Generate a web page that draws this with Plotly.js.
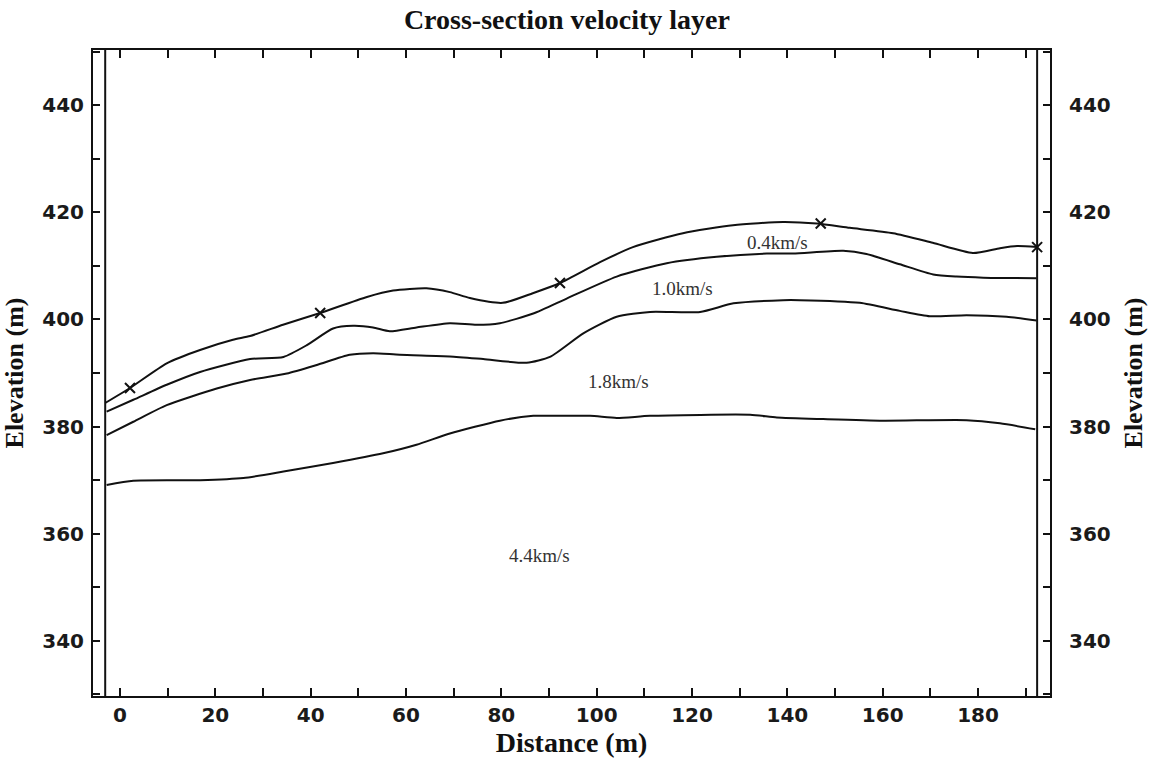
<!DOCTYPE html>
<html><head><meta charset="utf-8">
<script src="https://cdn.plot.ly/plotly-3.0.1.min.js"></script>
<style>html,body{margin:0;padding:0;background:#fff}#chart{width:1157px;height:763px}</style>
</head><body><div id="chart"></div>
<script>
// Boundary between 0.4 km/s and 1.0 km/s layers (surface)
const b1X = [-3.1, 2.1, 9.8, 16.8, 23.7, 27.3, 34.2, 42.0, 51.8, 57.3, 64.3, 69.2, 73.4, 80.3, 86.6, 92.3, 100.7, 107.6, 118.1, 128.6, 139.1, 146.2, 153.1, 162.2, 170.5, 178.9, 184.6, 188.2, 192.4];
const b1Y = [384.4, 387.2, 391.8, 394.3, 396.2, 396.9, 399.0, 401.2, 404.2, 405.4, 405.8, 405.1, 404.0, 403.1, 404.9, 406.8, 410.7, 413.5, 416.1, 417.6, 418.2, 417.9, 417.1, 416.1, 414.3, 412.4, 413.3, 413.7, 413.5];
// Boundary 1.0 km/s
const b2X = [-2.8, 2.8, 9.8, 16.8, 27.3, 34.3, 39.2, 44.7, 48.9, 53.1, 56.6, 62.2, 69.2, 74.8, 79.7, 86.7, 93.7, 104.2, 114.7, 125.2, 135.7, 141.2, 151.7, 156.6, 163.6, 170.6, 175.5, 181.1, 192.3];
const b2Y = [382.8, 385.0, 387.8, 390.2, 392.6, 393.0, 395.2, 398.3, 398.8, 398.5, 397.8, 398.5, 399.3, 399.0, 399.3, 401.1, 403.9, 408.0, 410.5, 411.7, 412.3, 412.3, 412.8, 412.2, 410.3, 408.4, 408.0, 407.8, 407.7];
// Boundary 1.8 km/s
const b3X = [-2.8, 2.8, 9.8, 20.3, 27.3, 35.0, 41.3, 48.2, 53.1, 58.7, 69.2, 76.2, 85.3, 90.2, 97.2, 104.2, 111.2, 121.7, 128.7, 139.1, 142.6, 155.2, 163.6, 169.9, 177.6, 186.0, 192.3];
const b3Y = [378.4, 380.9, 384.0, 387.1, 388.7, 389.9, 391.5, 393.4, 393.7, 393.4, 393.1, 392.6, 391.9, 393.0, 397.4, 400.5, 401.4, 401.4, 403.0, 403.6, 403.6, 403.1, 401.6, 400.6, 400.8, 400.5, 399.8];
// Boundary 4.4 km/s
const b4X = [-2.8, 2.8, 16.8, 25.9, 34.3, 44.7, 55.2, 62.2, 69.2, 79.7, 86.7, 90.2, 98.6, 104.2, 111.2, 132.2, 137.8, 147.5, 160.1, 177.6, 184.6, 192.0];
const b4Y = [369.1, 369.9, 370.0, 370.4, 371.6, 373.2, 375.0, 376.6, 378.7, 381.1, 382.0, 382.0, 382.0, 381.6, 382.0, 382.2, 381.7, 381.4, 381.1, 381.2, 380.6, 379.5];
// Shot points
const shotX = [2.1, 42.0, 92.3, 147.0, 192.4];
const shotY = [387.2, 401.2, 406.8, 417.9, 413.5];
// Layer velocity labels
const labelText = ["0.4km/s", "1.0km/s", "1.8km/s", "4.4km/s"];
const labelX = [138.0, 118.1, 104.5, 88.1];
const labelY = [414.3, 405.7, 388.5, 355.9];
// Profile ends
const profileEnds = [-3.1, 192.4];

const xRange = [-5.66, 195.1];
const yRange = [329.7, 450.3];

const lineStyle = {color: '#111', width: 2};
const traces = [
  {x: b1X, y: b1Y, mode: 'lines', line: Object.assign({shape: 'spline', smoothing: 0.6}, lineStyle), hoverinfo: 'skip'},
  {x: b2X, y: b2Y, mode: 'lines', line: Object.assign({shape: 'spline', smoothing: 0.6}, lineStyle), hoverinfo: 'skip'},
  {x: b3X, y: b3Y, mode: 'lines', line: Object.assign({shape: 'spline', smoothing: 0.6}, lineStyle), hoverinfo: 'skip'},
  {x: b4X, y: b4Y, mode: 'lines', line: Object.assign({shape: 'spline', smoothing: 0.6}, lineStyle), hoverinfo: 'skip'},
  {x: shotX, y: shotY, mode: 'markers', marker: {symbol: 'x-thin-open', size: 10, color: '#111', line: {color: '#111', width: 2}}, hoverinfo: 'skip'},
  {x: [xRange[0]], y: [yRange[0]], yaxis: 'y2', mode: 'markers', marker: {opacity: 0}, hoverinfo: 'skip'}
];

const tickFont = {family: 'DejaVu Sans', size: 20, color: '#1a1a1a', weight: 'bold'};
const titleFont = {family: 'Liberation Serif', size: 26, color: '#111', weight: 'bold'};

const layout = {
  width: 1157, height: 763,
  margin: {l: 93, r: 107, t: 50, b: 67},
  paper_bgcolor: '#fff', plot_bgcolor: '#fff',
  showlegend: false,
  title: {text: 'Cross-section velocity layer', font: {family: 'Liberation Serif', size: 28, color: '#111', weight: 'bold'}, x: 0.49, xanchor: 'center', y: 0.975, yanchor: 'middle'},
  xaxis: {
    range: xRange, showgrid: false, zeroline: false,
    showline: true, linecolor: '#111', linewidth: 2, mirror: 'ticks',
    ticks: 'inside', ticklen: 8, tickwidth: 2, tickcolor: '#111',
    dtick: 20, tick0: 0,
    minor: {dtick: 10, tick0: 0, ticks: 'inside', ticklen: 8, tickwidth: 2, tickcolor: '#111'},
    tickfont: tickFont,
    title: {text: 'Distance (m)', font: Object.assign({}, titleFont, {size: 28}), standoff: 4}
  },
  yaxis: {
    range: yRange, showgrid: false, zeroline: false,
    showline: true, linecolor: '#111', linewidth: 2, mirror: 'ticks',
    ticks: 'inside', ticklen: 7, tickwidth: 2, tickcolor: '#111',
    dtick: 20, tick0: 0,
    minor: {dtick: 10, tick0: 0, ticks: 'inside', ticklen: 7, tickwidth: 2, tickcolor: '#111'},
    tickfont: tickFont, ticklabelstandoff: 3,
    title: {text: 'Elevation (m)', font: titleFont, standoff: 14}
  },
  yaxis2: {
    range: yRange, overlaying: 'y', side: 'right', showgrid: false, zeroline: false,
    showline: false, ticks: '', dtick: 20, tick0: 0,
    tickfont: tickFont, ticklabelstandoff: 18,
    title: {text: 'Elevation (m)', font: titleFont, standoff: 14}
  },
  shapes: profileEnds.map(v => ({type: 'line', xref: 'x', yref: 'paper', x0: v, x1: v, y0: 0, y1: 1, line: {color: '#111', width: 2}})),
  annotations: labelText.map((t, i) => ({x: labelX[i], y: labelY[i], xref: 'x', yref: 'y', text: t, showarrow: false, font: {family: 'Liberation Serif', size: 19, color: '#333'}}))
};

Plotly.newPlot('chart', traces, layout, {displayModeBar: false, staticPlot: true});
</script>
</body></html>
